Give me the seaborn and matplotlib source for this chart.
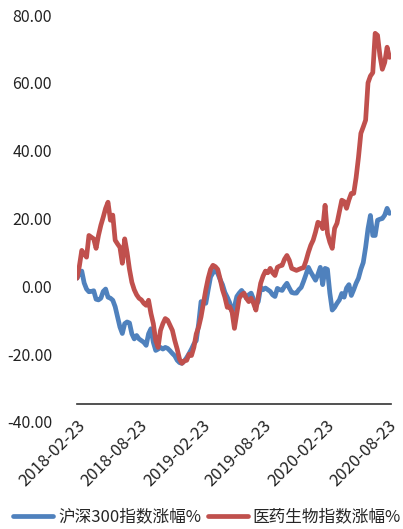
import numpy as np
import pandas as pd
import matplotlib
matplotlib.use("Agg")
import matplotlib.pyplot as plt
import seaborn as sns

# Weekly cumulative change (%) since 2018-02-23
start_date = "2018-02-23"
hs300 = [
    2.4, 3.8, 4.5, 1.0, -0.8, -1.6, -1.5, -1.3, -3.8, -4.0,
    -3.5, -1.5, -0.8, -3.2, -3.5, -4.1, -6.0, -9.0, -12.0, -13.9,
    -11.0, -10.5, -10.8, -14.0, -15.5, -14.5, -15.5, -16.0, -16.5, -17.4,
    -14.0, -12.5, -16.5, -18.9, -18.5, -18.0, -18.5, -18.0, -18.3, -19.0,
    -19.8, -20.5, -21.8, -22.5, -22.7, -22.0, -21.0, -19.8, -18.5, -17.0,
    -16.0, -11.0, -4.5, -4.8, -5.0, -1.0, 2.8, 4.0, 4.7, 3.8,
    2.0, 0.5, -1.8, -3.2, -4.8, -7.5, -6.0, -3.0, -2.0, -1.2,
    -2.2, -3.5, -2.5, -2.0, -3.8, -5.6, -4.5, -0.3, -1.0, -0.5,
    -1.0, -1.5, -2.5, -3.0, -0.6, -1.0, -1.2, 0.0, 0.9, -0.5,
    -1.8, -2.0, -2.0, -1.0, -0.3, 1.5, 3.5, 5.6, 4.2, 3.0,
    1.8, 3.5, 5.6, 0.5, 5.3, 5.0, -2.0, -7.0, -6.2, -5.0,
    -4.0, -2.1, -3.2, -0.5, 0.5, -2.7, -1.0, 0.9, 2.4, 5.0,
    7.0, 11.5, 17.0, 20.9, 15.0, 15.0, 19.5, 19.8, 20.0, 21.0,
    23.0, 21.5,
]
pharma = [
    2.4, 6.0, 10.6, 9.5, 8.6, 15.0, 14.5, 14.0, 11.2, 15.0,
    18.0, 20.4, 23.0, 24.8, 19.5, 21.0, 13.6, 12.5, 11.5, 6.8,
    14.0, 10.0, 5.0, 1.2, -1.0, -2.5, -3.5, -4.0, -5.0, -5.6,
    -4.1, -8.0, -11.0, -16.0, -18.0, -13.0, -11.0, -9.5, -10.0, -11.5,
    -13.0, -16.0, -18.5, -21.5, -22.7, -22.0, -21.8, -20.0, -20.4, -18.0,
    -14.0, -12.0, -9.0, -5.0, -1.0, 2.4, 5.0, 6.2, 5.8, 5.0,
    2.2, -1.0, -3.2, -6.2, -6.0, -7.5, -12.4, -8.0, -3.5, -2.5,
    -2.0, -3.5, -4.5, -3.5, -5.0, -7.0, -3.0, 0.9, 3.0, 4.5,
    4.0, 5.3, 4.0, 3.2, 5.6, 6.0, 6.2, 8.0, 9.1, 7.7,
    5.3, 5.0, 4.7, 5.0, 5.3, 5.5, 7.5, 10.0, 12.1, 13.6,
    16.0, 18.9, 18.5, 17.0, 23.9, 15.6, 13.0, 11.2, 17.1, 18.6,
    22.0, 25.4, 25.0, 23.0, 25.5, 27.4, 27.4, 32.0, 38.0, 45.1,
    47.0, 49.0, 60.0, 62.0, 63.0, 74.6, 74.0, 68.0, 64.0, 66.0,
    70.5, 67.5,
]
series_names = ["沪深300指数涨幅%", "医药生物指数涨幅%"]
series_colors = ["#4F81BD", "#C0504D"]
x_tick_labels = ["2018-02-23", "2018-08-23", "2019-02-23",
                 "2019-08-23", "2020-02-23", "2020-08-23"]
y_ticks = [-40, -20, 0, 20, 40, 60, 80]

dates = pd.date_range(start_date, periods=len(hs300), freq="7D")
df = pd.concat([
    pd.DataFrame({"date": dates, "value": hs300, "series": series_names[0]}),
    pd.DataFrame({"date": dates, "value": pharma, "series": series_names[1]}),
])

sns.set_style("white")
plt.rcParams["font.family"] = ["Noto Sans CJK SC", "DejaVu Sans"]

fig = plt.figure(figsize=(4.03, 5.29), dpi=100)
ax = fig.add_axes([77 / 403, (529 - 422) / 529, (390.5 - 77) / 403, (422 - 15) / 529])

sns.lineplot(data=df, x="date", y="value", hue="series",
             palette=series_colors, linewidth=3.4, ax=ax, legend=True)

ax.set_ylim(-40, 80)
ax.set_xlim(pd.Timestamp(start_date), pd.Timestamp(start_date) + pd.Timedelta(days=920))

# Category axis crosses a little above the lowest gridline value
for side in ["left", "right", "top"]:
    ax.spines[side].set_visible(False)
ax.spines["bottom"].set_position(("data", -34.6))
ax.spines["bottom"].set_color("#333333")
ax.spines["bottom"].set_linewidth(1.2)

ax.set_yticks(y_ticks)
ax.set_yticklabels([f"{v:.2f}" for v in y_ticks], fontsize=11.5, color="#222222")
ax.tick_params(axis="y", length=0, pad=18)

ax.set_xticks([pd.Timestamp(d) for d in x_tick_labels])
ax.set_xticklabels(x_tick_labels, fontsize=12, color="#222222")
ax.tick_params(axis="x", direction="in", length=4, width=1.2, color="#333333", pad=10)
plt.setp(ax.get_xticklabels(), rotation=45, ha="right", rotation_mode="anchor")

ax.set_xlabel("")
ax.set_ylabel("")

handles, labels = ax.get_legend_handles_labels()
ax.get_legend().remove()
fig.legend(handles, labels, loc="center left",
           bbox_to_anchor=(13 / 403, 1 - 517 / 529),
           ncol=2, frameon=False, fontsize=12, handlelength=2.4,
           handletextpad=0.3, columnspacing=0.4, borderpad=0, borderaxespad=0)

fig.savefig("out.png", dpi=100)
